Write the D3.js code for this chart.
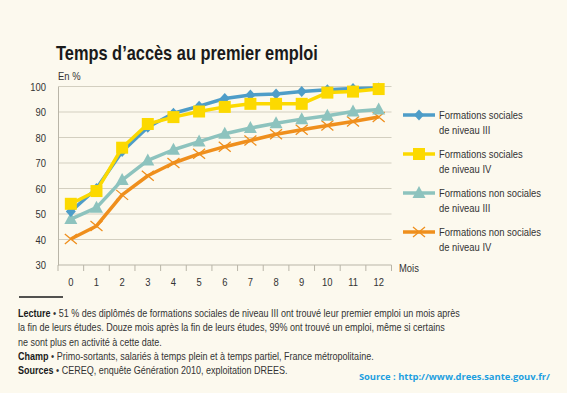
<!DOCTYPE html>
<html>
<head>
<meta charset="utf-8">
<script src="https://cdn.jsdelivr.net/npm/d3@7"></script>
<style>
  body { margin: 0; background: #fcf9ee; }
  svg { display: block; font-family: "Liberation Sans", Arial, sans-serif; }
</style>
</head>
<body>
<div id="chart"></div>
<script>
const months = d3.range(0, 13);
const yTicks = [30, 40, 50, 60, 70, 80, 90, 100];

const socialesIII = [51, 60, 74.5, 84, 89.5, 92.3, 95.3, 96.7, 97.1, 98, 98.7, 99.2, 99.4];
const socialesIV = [54, 59, 76, 85.3, 88, 90.2, 92, 93.2, 93.2, 93.2, 97.6, 98, 99];
const nonSocialesIII = [48, 52.5, 63.3, 71, 75.2, 78.4, 81.5, 83.7, 85.6, 87.2, 88.5, 90.2, 91];
const nonSocialesIV = [40.2, 45.3, 57.5, 65, 70, 73.6, 76.4, 78.8, 81.3, 83, 84.7, 86.3, 88];

const seriesNames = [
  ["Formations sociales", "de niveau III"],
  ["Formations sociales", "de niveau IV"],
  ["Formations non sociales", "de niveau III"],
  ["Formations non sociales", "de niveau IV"]
];
const seriesColors = ["#4e9dc8", "#fcd900", "#8dc3be", "#ef8f1d"];
const seriesShapes = ["diamond", "square", "triangle", "cross"];

const width = 567;
const height = 393;
const condense = 0.82; // Helvetica Condensed look

const svg = d3.select("#chart").append("svg")
  .attr("width", width)
  .attr("height", height);

svg.append("rect").attr("width", width).attr("height", height).attr("fill", "#fcf9ee");

svg.append("text")
  .attr("class", "c")
  .attr("x", 56).attr("y", 60)
  .attr("font-size", 20).attr("font-weight", "bold").attr("fill", "#1a1a1a")
  .text("Temps d\u2019accès au premier emploi");

svg.append("text")
  .attr("class", "c")
  .attr("x", 58).attr("y", 80)
  .attr("font-size", 11.5).attr("fill", "#333")
  .text("En %");

const x = d3.scaleBand().domain(months).range([58, 391.5]);
const y = d3.scaleLinear().domain([30, 100]).range([265, 86.5]);

// grid
svg.append("g").selectAll("line")
  .data(yTicks.slice(1))
  .join("line")
  .attr("x1", 58).attr("x2", 391.5)
  .attr("y1", d => y(d)).attr("y2", d => y(d))
  .attr("stroke", "#d3cfc0").attr("stroke-width", 1);

// y axis
const yAxis = svg.append("g")
  .attr("transform", "translate(58,0)")
  .call(d3.axisLeft(y).tickValues(yTicks).tickSize(0).tickPadding(12));
yAxis.select(".domain").attr("stroke", "#b9b5a8");
yAxis.selectAll("text").attr("class", "c").attr("font-size", 11.5).attr("fill", "#333")
  .attr("font-family", "inherit");

// x axis
const xAxis = svg.append("g").attr("transform", `translate(0,${y(30)})`);
xAxis.append("line")
  .attr("x1", 58).attr("x2", 391.5)
  .attr("stroke", "#b9b5a8");
const xEdges = months.map(m => x(m)).concat([x(12) + x.bandwidth()]);
xAxis.selectAll(".tk").data(xEdges).join("line")
  .attr("class", "tk")
  .attr("x1", d => d).attr("x2", d => d)
  .attr("y1", 0).attr("y2", 6)
  .attr("stroke", "#b9b5a8");
xAxis.selectAll("text").data(months).join("text")
  .attr("class", "c")
  .attr("x", d => x(d) + x.bandwidth() / 2)
  .attr("y", 21)
  .attr("text-anchor", "middle")
  .attr("font-size", 11.5).attr("fill", "#333")
  .text(d => d);

svg.append("text")
  .attr("class", "c")
  .attr("x", 399).attr("y", 272)
  .attr("font-size", 11.5).attr("fill", "#333")
  .text("Mois");

// series
const allSeries = [socialesIII, socialesIV, nonSocialesIII, nonSocialesIV];
const line = d3.line()
  .x((d, i) => x(months[i]) + x.bandwidth() / 2)
  .y(d => y(d));

function drawMarker(g, shape, color, cx, cy) {
  if (shape === "diamond") {
    g.append("path")
      .attr("d", `M${cx},${cy - 5.5}L${cx + 5},${cy}L${cx},${cy + 5.5}L${cx - 5},${cy}Z`)
      .attr("fill", color);
  } else if (shape === "square") {
    g.append("rect")
      .attr("x", cx - 6).attr("y", cy - 6).attr("width", 12).attr("height", 12)
      .attr("fill", color);
  } else if (shape === "triangle") {
    g.append("path")
      .attr("d", `M${cx},${cy - 7}L${cx + 6.5},${cy + 5}L${cx - 6.5},${cy + 5}Z`)
      .attr("fill", color);
  } else {
    g.append("path")
      .attr("d", `M${cx - 6},${cy - 5}L${cx + 6},${cy + 5}M${cx - 6},${cy + 5}L${cx + 6},${cy - 5}`)
      .attr("stroke", color).attr("stroke-width", 1.3).attr("fill", "none");
  }
}

// draw back to front: orange, teal, blue, yellow
const order = [3, 2, 0, 1];
order.forEach(k => {
  const g = svg.append("g");
  g.append("path")
    .datum(allSeries[k])
    .attr("d", line)
    .attr("fill", "none")
    .attr("stroke", seriesColors[k])
    .attr("stroke-width", 3.5)
    .attr("stroke-linejoin", "round");
  allSeries[k].forEach((v, i) => {
    drawMarker(g, seriesShapes[k], seriesColors[k], x(months[i]) + x.bandwidth() / 2, y(v));
  });
});

// legend
const legendY = [115, 154, 193, 232];
seriesNames.forEach((name, k) => {
  const g = svg.append("g");
  const ly = legendY[k];
  g.append("line")
    .attr("x1", 403).attr("x2", 435)
    .attr("y1", ly).attr("y2", ly)
    .attr("stroke", seriesColors[k]).attr("stroke-width", 3.5);
  drawMarker(g, seriesShapes[k], seriesColors[k], 419, ly);
  g.append("text")
    .attr("class", "c")
    .attr("x", 439).attr("y", ly + 4)
    .attr("font-size", 11.5).attr("fill", "#333")
    .text(name[0]);
  g.append("text")
    .attr("class", "c")
    .attr("x", 439).attr("y", ly + 19)
    .attr("font-size", 11.5).attr("fill", "#333")
    .text(name[1]);
});

// notes
svg.append("line")
  .attr("x1", 19).attr("x2", 63).attr("y1", 297).attr("y2", 297)
  .attr("stroke", "#1a1a1a").attr("stroke-width", 1.3);

const noteHeads = ["Lecture", "", "", "Champ", "Sources"];
const noteTexts = [
  " \u2022 51 % des diplômés de formations sociales de niveau III ont trouvé leur premier emploi un mois après",
  "la fin de leurs études. Douze mois après la fin de leurs études, 99% ont trouvé un emploi, même si certains",
  "ne sont plus en activité à cette date.",
  " \u2022 Primo-sortants, salariés à temps plein et à temps partiel, France métropolitaine.",
  " \u2022 CEREQ, enquête Génération 2010, exploitation DREES."
];
noteTexts.forEach((txt, i) => {
  const t = svg.append("text")
    .attr("class", "c")
    .attr("x", 18).attr("y", 317 + i * 14.3)
    .attr("font-size", 11).attr("fill", "#333");
  t.append("tspan").attr("font-weight", "bold").attr("fill", "#1a1a1a").text(noteHeads[i]);
  t.append("tspan").text(txt);
});

// narrow every body text around its anchor point to mimic the condensed face
svg.selectAll("text.c").each(function () {
  const ax = +this.getAttribute("x") || 0;
  d3.select(this)
    .attr("transform", `translate(${ax},0) scale(${condense},1) translate(${-ax},0)`);
});

svg.append("text")
  .attr("x", 550).attr("y", 380)
  .attr("text-anchor", "end")
  .attr("font-family", "'Open Sans', sans-serif")
  .attr("font-size", 9.4).attr("font-weight", "bold").attr("fill", "#1d9fe0")
  .text("Source : http://www.drees.sante.gouv.fr/");
</script>
</body>
</html>
